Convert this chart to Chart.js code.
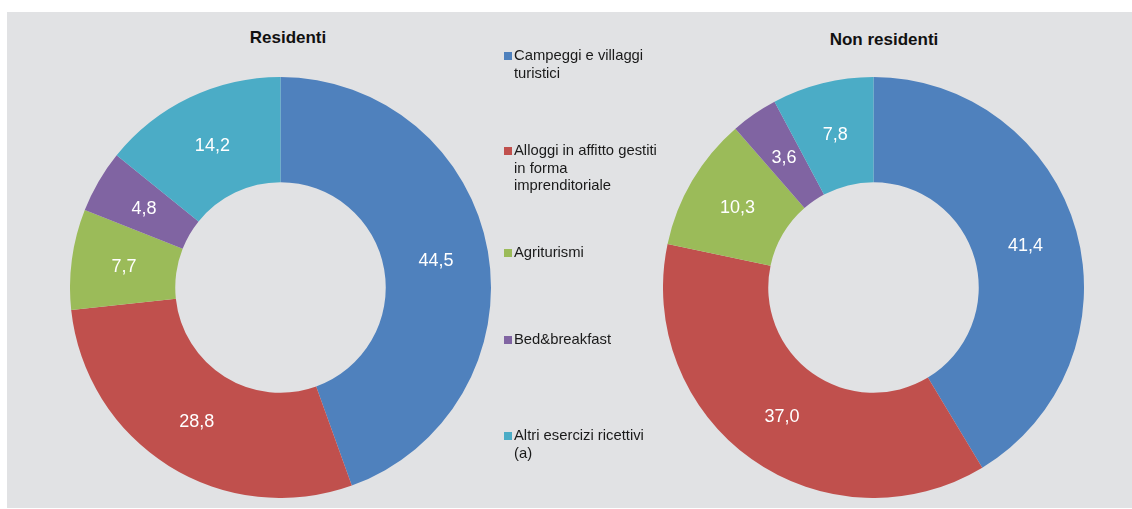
<!DOCTYPE html>
<html>
<head>
<meta charset="utf-8">
<script src="https://cdn.jsdelivr.net/npm/chart.js@4/dist/chart.umd.min.js"></script>
<style>
  html, body { margin: 0; padding: 0; background: #ffffff; }
  body { width: 1132px; height: 509px; position: relative; overflow: hidden;
         font-family: "Liberation Sans", Arial, sans-serif; }
  #panel { position: absolute; left: 7px; top: 12px; width: 1125px; height: 496px; background: #e1e2e4; }
  .title { position: absolute; font-weight: bold; font-size: 17px; color: #111; white-space: nowrap;
           transform: translateX(-50%); }
  canvas { position: absolute; }
  #legend { position: absolute; left: 0; top: 0; }
  .item { position: absolute; font-size: 14.8px; line-height: 17.5px; color: #1a1a1a; width: 175px; }
  .item .sw { position: absolute; left: -10px; top: 5px; width: 8px; height: 8px; }
</style>
</head>
<body>
<div id="panel"></div>
<div class="title" style="left:288px; top:28px;">Residenti</div>
<div class="title" style="left:884px; top:30px;">Non residenti</div>
<canvas id="res" width="421" height="421" style="left:70px; top:77px;"></canvas>
<canvas id="nonres" width="421" height="421" style="left:663px; top:77px;"></canvas>
<div id="legend"></div>
<script>
// Tipologie di esercizi extra-alberghieri (quote percentuali)
const categories = [
  ["Campeggi e villaggi", "turistici"],
  ["Alloggi in affitto gestiti", "in forma", "imprenditoriale"],
  ["Agriturismi"],
  ["Bed&breakfast"],
  ["Altri esercizi ricettivi", "(a)"]
];
const residenti = [44.5, 28.8, 7.7, 4.8, 14.2];
const nonResidenti = [41.4, 37.0, 10.3, 3.6, 7.8];
const colors = ["#4f81bd", "#c0504d", "#9bbb59", "#8064a2", "#4bacc6"];

// Etichette con il valore al centro di ogni settore
const valueLabels = {
  id: 'valueLabels',
  afterDatasetsDraw(chart) {
    const ctx = chart.ctx;
    const ds = chart.data.datasets[0];
    chart.getDatasetMeta(0).data.forEach((arc, i) => {
      const p = arc.tooltipPosition();
      ctx.save();
      ctx.fillStyle = '#ffffff';
      ctx.font = '18px "Liberation Sans", Arial, sans-serif';
      ctx.textAlign = 'center';
      ctx.textBaseline = 'middle';
      ctx.fillText(ds.data[i].toFixed(1).replace('.', ','), p.x, p.y + 1);
      ctx.restore();
    });
  }
};

function donut(id, values) {
  return new Chart(document.getElementById(id), {
    type: 'doughnut',
    data: {
      labels: categories.map(c => c.join(' ')),
      datasets: [{ data: values, backgroundColor: colors, borderWidth: 0 }]
    },
    options: {
      responsive: false,
      animation: false,
      cutout: '50%',
      layout: { padding: 0 },
      plugins: { legend: { display: false }, tooltip: { enabled: false } }
    },
    plugins: [valueLabels]
  });
}
donut('res', residenti);
donut('nonres', nonResidenti);

// Legenda centrale
const legendTops = [47, 142, 244, 331, 427];
const legend = document.getElementById('legend');
categories.forEach((lines, i) => {
  const d = document.createElement('div');
  d.className = 'item';
  d.style.left = '514px';
  d.style.top = legendTops[i] + 'px';
  const sw = document.createElement('span');
  sw.className = 'sw';
  sw.style.background = colors[i];
  d.appendChild(sw);
  d.appendChild(document.createTextNode(lines[0]));
  lines.slice(1).forEach(l => {
    d.appendChild(document.createElement('br'));
    d.appendChild(document.createTextNode(l));
  });
  legend.appendChild(d);
});
</script>
</body>
</html>
